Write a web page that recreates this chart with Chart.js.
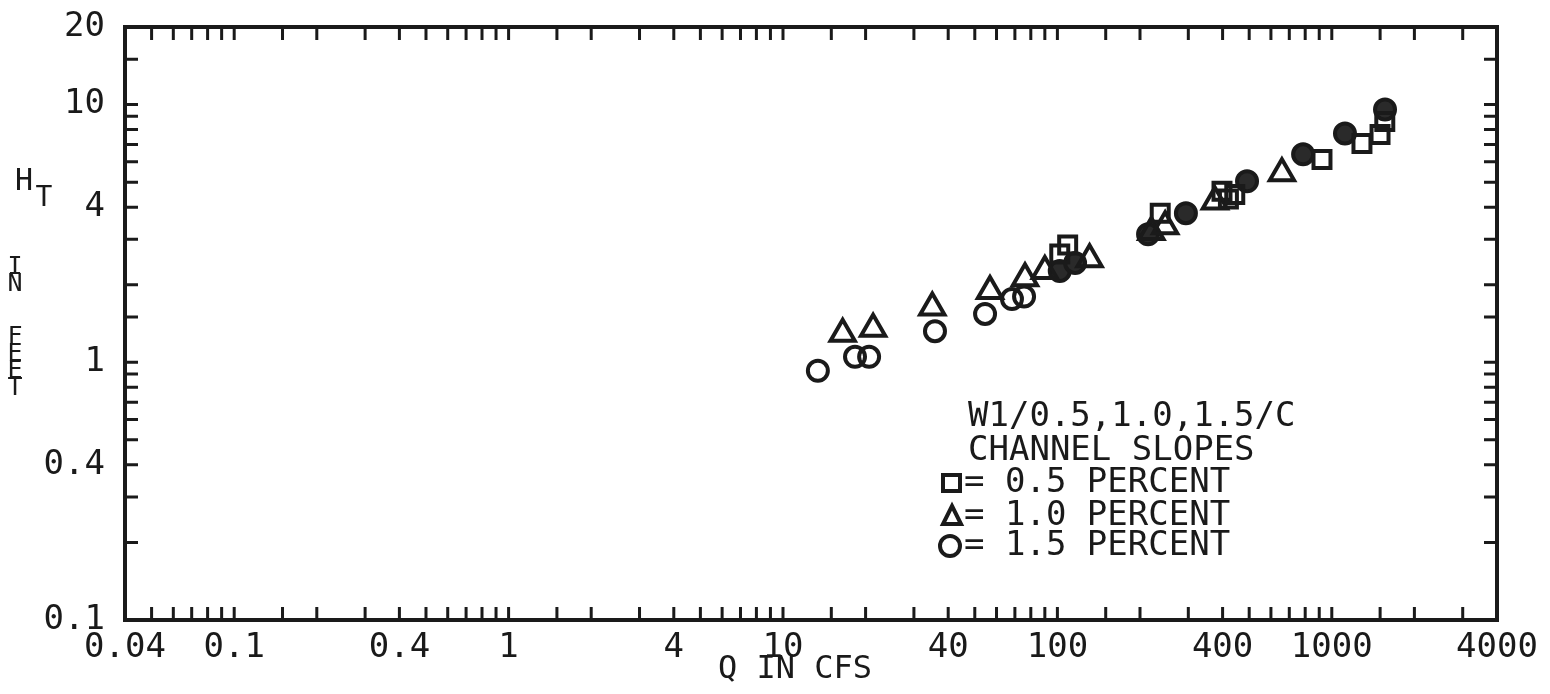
<!DOCTYPE html>
<html>
<head>
<meta charset="utf-8">
<title>H_T vs Q</title>
<script src="https://cdn.jsdelivr.net/npm/chart.js@4.4.1/dist/chart.umd.min.js"></script>
<style>
  html, body { margin: 0; padding: 0; background: #fff; }
  #wrap { width: 1550px; height: 694px; }
</style>
</head>
<body>
<div id="wrap"><canvas id="chart" width="1550" height="694"></canvas></div>
<script>
// labelled ticks (all other 1..9 ticks are drawn without text)
const xTickLabels = [0.04, 0.1, 0.4, 1, 4, 10, 40, 100, 400, 1000, 4000];
const yTickLabels = [0.1, 0.4, 1, 4, 10, 20];

// 0.5 percent slope (squares)
const squareQ = [102, 109, 237, 398, 420, 443, 921, 1288, 1499, 1560];
const squareH = [2.63, 2.85, 3.79, 4.61, 4.3, 4.48, 6.12, 7.06, 7.65, 8.6];

// 1.0 percent slope (triangles)
const triangleQ = [16.5, 21.3, 35, 56.8, 76.2, 90, 131, 220, 247, 375, 658];
const triangleH = [1.29, 1.35, 1.63, 1.89, 2.12, 2.26, 2.51, 3.2, 3.37, 4.21, 5.41];

// 1.5 percent slope (circles)
const circleQ = [13.4, 18.3, 20.6, 35.8, 54.5, 68.3, 75.6, 102, 116, 214, 294, 491, 786, 1117, 1563];
const circleH = [0.927, 1.05, 1.05, 1.32, 1.54, 1.76, 1.80, 2.26, 2.43, 3.14, 3.79, 5.04, 6.41, 7.72, 9.57];

const legendTitle = ['W1/0.5,1.0,1.5/C', 'CHANNEL SLOPES'];
const legendText = ['= 0.5 PERCENT', '= 1.0 PERCENT', '= 1.5 PERCENT'];

const INK = '#1a1a1a';
const MONO = '"DejaVu Sans Mono", "Liberation Mono", monospace';

const toPoints = (qs, hs) => qs.map((q, i) => ({ x: q, y: hs[i] }));

function isLabelled(v, list) {
    return list.some(l => Math.abs(Math.log10(v / l)) < 1e-6);
}

function fmt(v) {
    return String(+v.toPrecision(6));
}

// frame, inward tick marks, titles and the legend block
const plotterFrame = {
    id: 'plotterFrame',
    afterDraw(chart) {
        const ctx = chart.ctx;
        const a = chart.chartArea;
        const xs = chart.scales.x;
        const ys = chart.scales.y;
        const tick = 13;

        ctx.save();
        ctx.strokeStyle = INK;
        ctx.lineWidth = 3;
        ctx.beginPath();
        xs.ticks.forEach(t => {
            const px = xs.getPixelForValue(t.value);
            ctx.moveTo(px, a.bottom);
            ctx.lineTo(px, a.bottom - tick);
            ctx.moveTo(px, a.top);
            ctx.lineTo(px, a.top + tick);
        });
        ys.ticks.forEach(t => {
            const py = ys.getPixelForValue(t.value);
            ctx.moveTo(a.left, py);
            ctx.lineTo(a.left + tick, py);
            ctx.moveTo(a.right, py);
            ctx.lineTo(a.right - tick, py);
        });
        ctx.stroke();

        ctx.lineWidth = 4;
        ctx.strokeRect(a.left, a.top, a.right - a.left, a.bottom - a.top);

        // axis titles
        ctx.fillStyle = INK;
        ctx.textBaseline = 'middle';
        ctx.textAlign = 'center';
        ctx.font = '32px ' + MONO;
        ctx.fillText('Q IN CFS', 795, 670);

        ctx.font = '30px ' + MONO;
        ctx.fillText('H', 24, 182);
        ctx.font = '28px ' + MONO;
        ctx.fillText('T', 44, 199);
        ctx.font = '25px ' + MONO;
        [['I', 267], ['N', 284], ['F', 337], ['E', 354], ['E', 371], ['T', 388]].forEach(([ch, y]) => {
            ctx.fillText(ch, 15, y);
        });

        // legend
        ctx.textAlign = 'left';
        ctx.font = '34px ' + MONO;
        ctx.fillText(legendTitle[0], 968, 417);
        ctx.fillText(legendTitle[1], 968, 451);
        const rows = [483, 516, 546];
        legendText.forEach((s, i) => ctx.fillText(s, 964, rows[i]));

        ctx.lineWidth = 4;
        ctx.strokeRect(943, rows[0] - 8, 17, 16);
        ctx.beginPath();
        ctx.moveTo(952, rows[1] - 10);
        ctx.lineTo(961, rows[1] + 8);
        ctx.lineTo(943, rows[1] + 8);
        ctx.closePath();
        ctx.stroke();
        ctx.beginPath();
        ctx.arc(950, rows[2], 10, 0, Math.PI * 2);
        ctx.stroke();
        ctx.restore();
    }
};

const markerBase = {
    type: 'scatter',
    showLine: false,
    borderColor: INK,
    pointBorderColor: INK,
    pointBorderWidth: 4,
    pointHoverRadius: 0
};

new Chart(document.getElementById('chart'), {
    type: 'scatter',
    data: {
        datasets: [
            {
                ...markerBase,
                label: '0.5 PERCENT',
                data: toPoints(squareQ, squareH),
                pointStyle: 'rect',
                pointRadius: 12,
                pointBackgroundColor: 'rgba(0,0,0,0)'
            },
            {
                ...markerBase,
                label: '1.0 PERCENT',
                data: toPoints(triangleQ, triangleH),
                pointStyle: 'triangle',
                pointRadius: 14,
                pointBackgroundColor: 'rgba(0,0,0,0)'
            },
            {
                ...markerBase,
                label: '1.5 PERCENT',
                data: toPoints(circleQ, circleH),
                pointStyle: 'circle',
                pointRadius: 10,
                // overplotted runs at the high-flow end print as solid blobs
                pointBackgroundColor: c => (c.raw && c.raw.x >= 100 ? '#2a2a2a' : 'rgba(0,0,0,0)')
            }
        ]
    },
    options: {
        responsive: false,
        animation: false,
        devicePixelRatio: 1,
        layout: { padding: { top: 27, right: 53, left: 0, bottom: 0 } },
        plugins: {
            legend: { display: false },
            tooltip: { enabled: false }
        },
        scales: {
            x: {
                type: 'logarithmic',
                min: 0.04,
                max: 4000,
                grid: { display: false, drawTicks: false },
                border: { display: false },
                ticks: {
                    autoSkip: false,
                    maxRotation: 0,
                    padding: 8,
                    color: INK,
                    font: { family: MONO, size: 34 },
                    callback: v => (isLabelled(v, xTickLabels) ? fmt(v) : '')
                },
                afterFit: s => { s.height = 74; }
            },
            y: {
                type: 'logarithmic',
                min: 0.1,
                max: 20,
                grid: { display: false, drawTicks: false },
                border: { display: false },
                ticks: {
                    autoSkip: false,
                    padding: 20,
                    color: INK,
                    font: { family: MONO, size: 34 },
                    callback: v => (isLabelled(v, yTickLabels) ? fmt(v) : '')
                },
                afterFit: s => {
                    s.width = 125;
                    s.paddingTop = 0;
                    s.paddingBottom = 0;
                }
            }
        }
    },
    plugins: [plotterFrame]
});
</script>
</body>
</html>
